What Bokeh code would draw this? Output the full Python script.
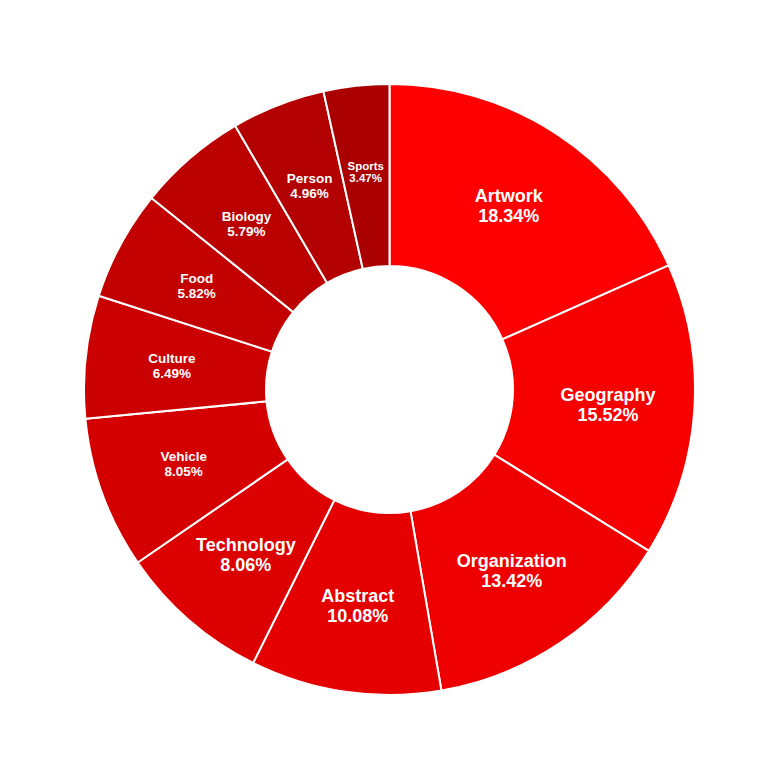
import numpy as np
from bokeh.plotting import figure
from bokeh.models import ColumnDataSource, Range1d
from bokeh.core.properties import value
from bokeh.embed import file_html
from bokeh.resources import INLINE

categories = ["Artwork", "Geography", "Organization", "Abstract", "Technology",
              "Vehicle", "Culture", "Food", "Biology", "Person", "Sports"]
percents = [18.34, 15.52, 13.42, 10.08, 8.06, 8.05, 6.49, 5.82, 5.79, 4.96, 3.47]
colors = ["#ff0000", "#f70000", "#ee0000", "#e50000", "#dc0000", "#d40000",
          "#cb0000", "#c30000", "#bb0000", "#b30000", "#aa0000"]
font_sizes = ["18px", "18px", "18px", "18px", "18px", "13.5px", "13.5px",
              "13.5px", "13.5px", "13.5px", "11.5px"]

W = 778
half = W / 2
R_OUT = 305.5
R_IN = 123.5
R_LABEL = 219

frac = np.array(percents) / sum(percents)
cum_end = np.cumsum(frac)
cum_start = cum_end - frac
start_angle = np.pi / 2 - cum_end * 2 * np.pi
end_angle = np.pi / 2 - cum_start * 2 * np.pi
mid = (start_angle + end_angle) / 2

src = ColumnDataSource(dict(
    start=start_angle, end=end_angle, color=colors,
    lx=R_LABEL * np.cos(mid), ly=R_LABEL * np.sin(mid),
    label=[f"{c}\n{p:.2f}%" for c, p in zip(categories, percents)],
    fs=font_sizes,
))

p = figure(width=W, height=W, output_backend="svg", toolbar_location=None,
           x_range=Range1d(-half, half), y_range=Range1d(-half, half),
           min_border=0, outline_line_color=None)
p.axis.visible = False
p.grid.visible = False
p.background_fill_color = "white"

p.annular_wedge(x=0, y=0, inner_radius=R_IN, outer_radius=R_OUT,
                start_angle="start", end_angle="end", direction="anticlock",
                fill_color="color", line_color="white", line_width=2, source=src)

p.text(x="lx", y="ly", text="label", text_color="white",
       text_font=value("Liberation Sans"), text_font_style="bold",
       text_font_size="fs", text_align="center", text_baseline="middle",
       text_line_height=1.0, source=src)

open("out.html", "w").write(file_html(p, INLINE))
